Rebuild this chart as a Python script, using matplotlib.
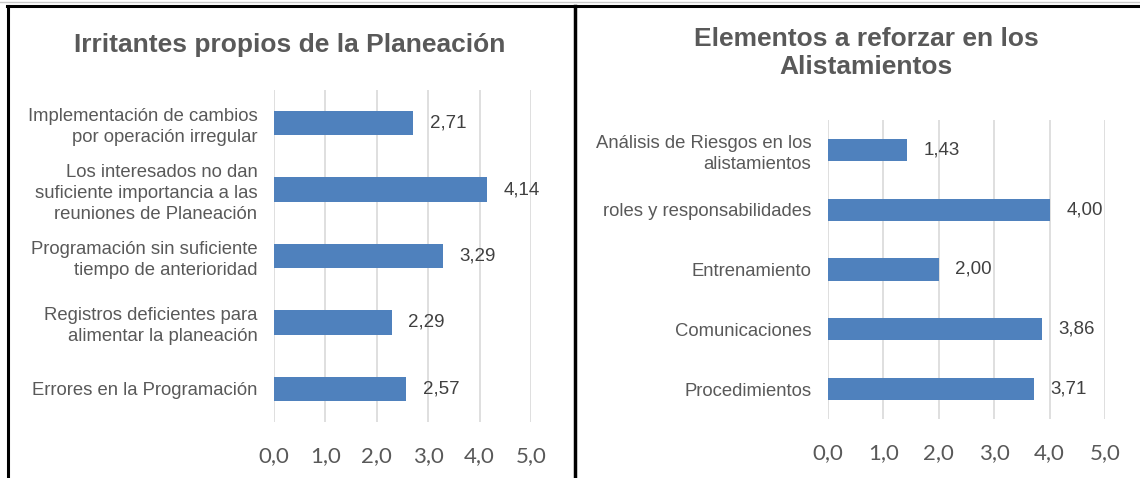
import matplotlib.pyplot as plt
from matplotlib.lines import Line2D

# datos
cats_izq = ['Implementación de cambios\npor operación irregular',
            'Los interesados no dan\nsuficiente importancia a las\nreuniones de Planeación',
            'Programación sin suficiente\ntiempo de anterioridad',
            'Registros deficientes para\nalimentar la planeación',
            'Errores en la Programación']
vals_izq = [2.71, 4.14, 3.29, 2.29, 2.57]

cats_der = ['Análisis de Riesgos en los\nalistamientos',
            'roles y responsabilidades',
            'Entrenamiento',
            'Comunicaciones',
            'Procedimientos']
vals_der = [1.43, 4.00, 2.00, 3.86, 3.71]

ticks = [0, 1, 2, 3, 4, 5]
tick_labels = ['0,0', '1,0', '2,0', '3,0', '4,0', '5,0']

azul = '#4F81BD'
gris = '#595959'

fig = plt.figure(figsize=(11.4, 4.78), dpi=100)


def dibujar(ax, cats, vals, titulo, ty):
    y = list(range(len(cats)))
    ax.barh(y, vals, height=0.37, color=azul, zorder=3)
    ax.set_ylim(len(cats) - 0.5, -0.5)
    ax.set_xlim(0, 5)
    ax.set_xticks(ticks)
    ax.set_xticklabels(tick_labels, family='Lato', fontsize=16, color=gris)
    ax.set_yticks(y)
    ax.set_yticklabels(cats, family='Liberation Sans', fontsize=13.3, color=gris,
                       linespacing=1.28)
    ax.tick_params(axis='both', length=0)
    ax.tick_params(axis='x', pad=17)
    ax.tick_params(axis='y', pad=12)
    ax.grid(axis='x', color='#D9D9D9', linewidth=1.2, zorder=0)
    for s in ax.spines.values():
        s.set_visible(False)
    for yi, v in zip(y, vals):
        ax.annotate(f'{v:.2f}'.replace('.', ','), (v, yi), xytext=(12, 0),
                    textcoords='offset points', va='center', ha='left',
                    family='Liberation Sans', fontsize=13.5, color='#404040')
    fig.text(ty[0], ty[1], titulo, ha='center', va='center', family='Liberation Sans',
             fontsize=19, fontweight='bold', color=gris, linespacing=1.22)


ax1 = fig.add_axes([274 / 1140, 56 / 478, 257 / 1140, 332 / 478])
dibujar(ax1, cats_izq, vals_izq, 'Irritantes propios de la Planeación', (290 / 1140, 1 - 45 / 478))

ax2 = fig.add_axes([828 / 1140, 59 / 478, 277 / 1140, 299 / 478])
dibujar(ax2, cats_der, vals_der, 'Elementos a reforzar en los\nAlistamientos', (866 / 1140, 1 - 53 / 478))

# marcos
fig.add_artist(Line2D([0, 1], [1 - 2 / 478] * 2, color='#C8C8C8', linewidth=1))
fig.add_artist(Line2D([7 / 1140, 1], [1 - 6 / 478] * 2, color='black', linewidth=2.2))
fig.add_artist(Line2D([8 / 1140] * 2, [0, 1 - 6 / 478], color='black', linewidth=2.2))
fig.add_artist(Line2D([575 / 1140] * 2, [0, 1 - 6 / 478], color='black', linewidth=2.5))

fig.savefig('out.png', dpi=100)
